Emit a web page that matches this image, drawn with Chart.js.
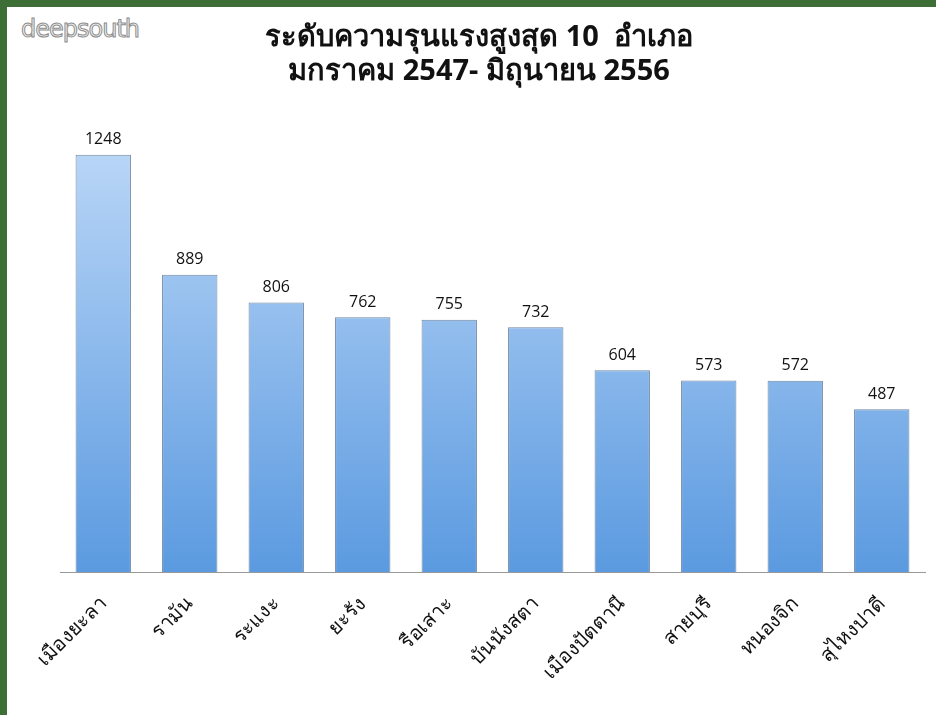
<!DOCTYPE html>
<html>
<head>
<meta charset="utf-8">
<script src="https://cdn.jsdelivr.net/npm/chart.js@4/dist/chart.umd.min.js"></script>
<style>
  body { margin: 0; background: #fff; }
  #frame {
    position: relative;
    width: 936px;
    height: 715px;
    box-sizing: border-box;
    border-left: 7px solid #3c6e35;
    border-top: 7px solid #3c6e35;
  }
  #logo {
    position: absolute;
    left: 14px;
    top: 8px;
    font-family: "DejaVu Sans", sans-serif;
    font-size: 24px;
    color: #f2f2f2;
    -webkit-text-stroke: 1px #8c8c8c;
    letter-spacing: -1px;
  }
  canvas { position: absolute; left: 0; top: 0; }
</style>
</head>
<body>
<div id="frame">
  <div id="logo">deepsouth</div>
</div>
<canvas id="chart" width="936" height="715"></canvas>
<script>
const districts = ["เมืองยะลา", "รามัน", "ระแงะ", "ยะรัง", "รือเสาะ", "บันนังสตา", "เมืองปัตตานี", "สายบุรี", "หนองจิก", "สุไหงปาดี"];
const incidents = [1248, 889, 806, 762, 755, 732, 604, 573, 572, 487];
const titleLines = ["ระดับความรุนแรงสูงสุด 10  อำเภอ", "มกราคม 2547- มิถุนายน 2556"];

// title is drawn by hand so it can sit centred on the page, not on the plot
const pageTitle = {
  id: "pageTitle",
  afterDraw(chart) {
    const ctx = chart.ctx;
    ctx.save();
    ctx.font = "bold 29px 'Noto Sans', 'DejaVu Sans', sans-serif";
    ctx.fillStyle = "#111";
    ctx.textAlign = "center";
    ctx.textBaseline = "middle";
    titleLines.forEach((line, i) => {
      ctx.fillText(line, 479, 38 + i * 34);
    });
    ctx.restore();
  }
};

const valueLabels = {
  id: "valueLabels",
  afterDatasetsDraw(chart) {
    const ctx = chart.ctx;
    const meta = chart.getDatasetMeta(0);
    ctx.save();
    ctx.font = "16px 'Open Sans', sans-serif";
    ctx.fillStyle = "#111";
    ctx.textAlign = "center";
    ctx.textBaseline = "bottom";
    meta.data.forEach((bar, i) => {
      ctx.fillText(incidents[i], bar.x, bar.y - 7);
    });
    ctx.restore();
  }
};

function barGradient(context) {
  const area = context.chart.chartArea;
  if (!area) return "#8ab8ee";
  const g = context.chart.ctx.createLinearGradient(0, area.top, 0, area.bottom);
  g.addColorStop(0, "#c3dcf9");
  g.addColorStop(1, "#5b9ae0");
  return g;
}

new Chart(document.getElementById("chart"), {
  type: "bar",
  data: {
    labels: districts,
    datasets: [{
      data: incidents,
      backgroundColor: barGradient,
      borderColor: "#6f86a0",
      borderWidth: 1,
      categoryPercentage: 0.64,
      barPercentage: 1
    }]
  },
  plugins: [valueLabels, pageTitle],
  options: {
    responsive: false,
    animation: false,
    layout: {
      padding: { left: 60, right: 11, top: 104, bottom: 19 }
    },
    plugins: {
      legend: { display: false },
      tooltip: { enabled: false },
      title: { display: false }
    },
    scales: {
      x: {
        grid: { display: false },
        border: { color: "#999", width: 1 },
        ticks: {
          color: "#111",
          font: { family: "'Noto Sans', sans-serif", size: 20 },
          minRotation: 45,
          maxRotation: 45,
          autoSkip: false,
          padding: 12
        }
      },
      y: {
        display: false,
        min: 0,
        max: 1400
      }
    }
  }
});
</script>
</body>
</html>
